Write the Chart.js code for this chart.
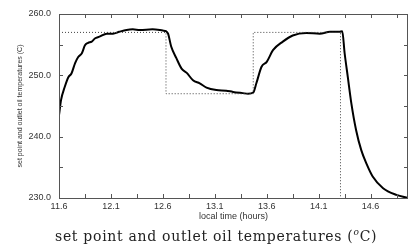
<!DOCTYPE html>
<html>
<head>
<meta charset="utf-8">
<script src="https://cdn.jsdelivr.net/npm/chart.js@4.4.0/dist/chart.umd.min.js"></script>
<style>
  html, body { margin: 0; padding: 0; background: #fff; }
  #wrap { position: relative; width: 409px; height: 244px; }
  #caption {
    position: absolute; left: 55px; top: 229px;
    font-family: "DejaVu Serif", serif; font-size: 14px; color: #222;
    letter-spacing: 0.7px; white-space: nowrap; line-height: 14px;
  }
  #caption sup { font-size: 9px; font-style: italic; line-height: 0; }
</style>
</head>
<body>
<div id="wrap">
  <canvas id="chart" width="409" height="244"></canvas>
  <div id="caption">set point and outlet oil temperatures (<sup>o</sup>C)</div>
</div>
<script>
// outlet oil temperature (solid line)
const outletTimes = [11.60, 11.62, 11.655, 11.69, 11.72, 11.755, 11.785, 11.82, 11.85, 11.88,
  11.915, 11.945, 11.99, 12.06, 12.12, 12.18, 12.25, 12.31, 12.38, 12.50,
  12.60, 12.63, 12.65, 12.68, 12.73, 12.78, 12.83, 12.89, 12.955, 13.02,
  13.115, 13.21, 13.275, 13.37, 13.42, 13.47, 13.50, 13.55, 13.60, 13.66,
  13.755, 13.85, 13.98, 14.11, 14.21, 14.30, 14.327, 14.35, 14.38, 14.415,
  14.46, 14.51, 14.56, 14.62, 14.72, 14.85, 14.96];
const outletTemps = [243.5, 246.0, 248.1, 249.7, 250.3, 252.0, 253.0, 253.6, 254.9, 255.3,
  255.5, 256.0, 256.3, 256.8, 256.8, 257.1, 257.4, 257.5, 257.4, 257.5,
  257.3, 257.2, 256.8, 254.7, 252.8, 251.1, 250.4, 249.2, 248.7, 248.0,
  247.6, 247.5, 247.3, 247.1, 247.0, 247.2, 248.7, 251.4, 252.2, 254.1,
  255.5, 256.5, 256.9, 256.8, 257.1, 257.1, 257.2, 253.6, 249.8, 245.4,
  241.1, 237.8, 235.6, 233.5, 231.6, 230.5, 230.0];

// set point (dotted line)
const setTimes = [11.60, 12.63, 12.63, 13.47, 13.47, 14.31, 14.31];
const setTemps = [257, 257, 247, 247, 257, 257, 230];

// axes
const xLabelTicks = [11.6, 12.1, 12.6, 13.1, 13.6, 14.1, 14.6];
const xMinorTicks = [11.6, 11.85, 12.1, 12.35, 12.6, 12.85, 13.1, 13.35, 13.6, 13.85, 14.1, 14.35, 14.6, 14.85];
const yLabelTicks = [230, 240, 250, 260];
const yMinorTicks = [230, 235, 240, 245, 250, 255, 260];

const toPoints = (xs, ys) => xs.map((x, i) => ({ x: x, y: ys[i] }));

const framePlugin = {
  id: 'frame',
  afterDatasetsDraw(chart) {
    const { ctx, chartArea: a, scales } = chart;
    ctx.save();
    ctx.strokeStyle = '#555';
    ctx.lineWidth = 1;
    ctx.strokeRect(Math.round(a.left) + 0.5, Math.round(a.top) + 0.5,
      Math.round(a.right - a.left) - 1, Math.round(a.bottom - a.top));
    ctx.beginPath();
    xMinorTicks.forEach(v => {
      const px = Math.round(scales.x.getPixelForValue(v)) + 0.5;
      ctx.moveTo(px, a.bottom); ctx.lineTo(px, a.bottom - 4);
      ctx.moveTo(px, a.top); ctx.lineTo(px, a.top + 4);
    });
    yMinorTicks.forEach(v => {
      const py = Math.round(scales.y.getPixelForValue(v)) + 0.5;
      ctx.moveTo(a.left, py); ctx.lineTo(a.left + 4, py);
      ctx.moveTo(a.right, py); ctx.lineTo(a.right - 4, py);
    });
    ctx.stroke();
    ctx.restore();
  }
};

const tickFont = { family: 'Liberation Sans, Arial, sans-serif', size: 9 };

new Chart(document.getElementById('chart'), {
  type: 'line',
  data: {
    datasets: [
      {
        label: 'set point',
        data: toPoints(setTimes, setTemps),
        borderColor: '#444',
        borderWidth: 1,
        borderDash: [1, 2],
        pointRadius: 0,
        tension: 0
      },
      {
        label: 'outlet oil temperature',
        data: toPoints(outletTimes, outletTemps),
        borderColor: '#000',
        borderWidth: 2,
        pointRadius: 0,
        cubicInterpolationMode: 'monotone'
      }
    ]
  },
  options: {
    responsive: false,
    animation: false,
    devicePixelRatio: 1,
    layout: { padding: { left: 0, right: 1, top: 14, bottom: 22 } },
    plugins: { legend: { display: false }, tooltip: { enabled: false } },
    scales: {
      x: {
        type: 'linear',
        min: 11.6,
        max: 14.96,
        afterBuildTicks: s => { s.ticks = xLabelTicks.map(v => ({ value: v })); },
        afterFit: s => { s.height = 24; },
        grid: { display: false, drawTicks: false },
        border: { display: false },
        ticks: {
          font: tickFont, color: '#333', padding: 3, maxRotation: 0, autoSkip: false,
          callback: v => v.toFixed(1)
        },
        title: {
          display: true, text: 'local time (hours)', color: '#333',
          font: { family: 'Liberation Sans, Arial, sans-serif', size: 9 },
          padding: { top: 0, bottom: 0 }
        }
      },
      y: {
        min: 230,
        max: 260,
        afterBuildTicks: s => { s.ticks = yLabelTicks.map(v => ({ value: v })); },
        afterFit: s => { s.width = 59; },
        grid: { display: false, drawTicks: false },
        border: { display: false },
        ticks: {
          font: tickFont, color: '#333', padding: 8, autoSkip: false,
          callback: v => v.toFixed(1)
        },
        title: {
          display: true, text: 'set point and outlet oil temperatures (C)', color: '#333',
          font: { family: 'Liberation Sans, sans-serif', size: 7 },
          padding: { top: 16, bottom: 0 }
        }
      }
    }
  },
  plugins: [framePlugin]
});
</script>
</body>
</html>
